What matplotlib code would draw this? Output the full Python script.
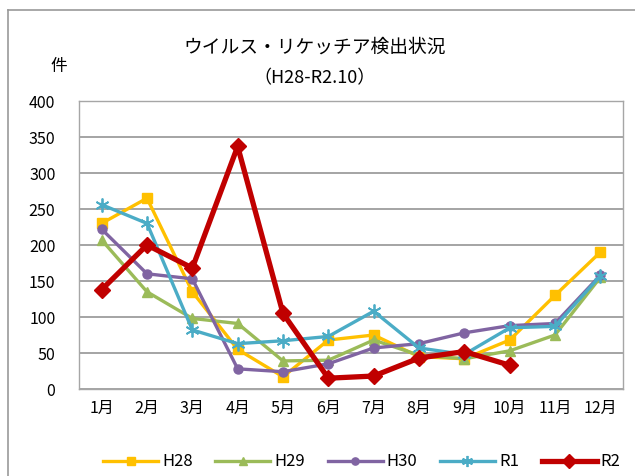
import matplotlib.pyplot as plt
from matplotlib.lines import Line2D

plt.rcParams['font.family'] = ['Noto Sans CJK JP', 'DejaVu Sans']

months = ['1月', '2月', '3月', '4月', '5月', '6月', '7月', '8月', '9月', '10月', '11月', '12月']
h28 = [230, 265, 135, 55, 17, 68, 75, 45, 42, 68, 130, 190]
h29 = [207, 135, 98, 91, 39, 40, 68, 47, 42, 53, 75, 155]
h30 = [222, 160, 153, 28, 24, 35, 57, 63, 78, 88, 91, 158]
r1 = [256, 230, 82, 63, 67, 73, 108, 57, 48, 85, 87, 157]
r2 = [138, 200, 168, 337, 105, 15, 18, 43, 52, 33]
yticks = [0, 50, 100, 150, 200, 250, 300, 350, 400]

fig = plt.figure(figsize=(6.35, 4.76), dpi=100)
ax = fig.add_axes([79 / 635, 1 - 389 / 476, 544 / 635, 288 / 476])

x = list(range(len(months)))
ax.plot(x, h28, color='#FFC000', lw=2.4, marker='s', ms=6.5, label='H28')
ax.plot(x, h29, color='#9BBB59', lw=2.4, marker='^', ms=6.5, label='H29')
ax.plot(x, h30, color='#8064A2', lw=2.4, marker='o', ms=6.5, label='H30')
ax.plot(x, r1, color='#4BACC6', lw=2.4, marker=(6, 2, 0), ms=10, mew=1.3, label='R1')
ax.plot(x[:len(r2)], r2, color='#C00000', lw=3.8, marker='D', ms=8.5, label='R2')

ax.set_xlim(-0.5, len(months) - 0.5)
ax.set_ylim(0, 400)
ax.set_yticks(yticks)
ax.set_xticks(x)
ax.set_xticklabels(months, fontsize=11.5)
ax.tick_params(axis='y', length=0, pad=17, labelsize=11.5)
ax.tick_params(axis='x', length=0, pad=8)
ax.grid(axis='y', color='#8c8c8c', lw=1.1)
ax.set_axisbelow(True)
for s in ax.spines.values():
    s.set_color('#a6a6a6')
    s.set_linewidth(1)

fig.text(315 / 635, 1 - 47 / 476, 'ウイルス・リケッチア検出状況', ha='center', va='center', fontsize=13.5)
fig.text(315 / 635, 1 - 78 / 476, '（H28-R2.10）', ha='center', va='center', fontsize=13)
fig.text(59 / 635, 1 - 66 / 476, '件', ha='center', va='center', fontsize=12)

# outer chart frame (cut off at right/bottom)
fig.add_artist(Line2D([8 / 635, 8 / 635], [0, 1 - 10 / 476], color='#999999', lw=1.2, transform=fig.transFigure))
fig.add_artist(Line2D([8 / 635, 1], [1 - 10 / 476, 1 - 10 / 476], color='#999999', lw=1.2, transform=fig.transFigure))

fig.legend(loc='center left', bbox_to_anchor=(103 / 635, 1 - 462 / 476), ncol=5, frameon=False,
           fontsize=12, handlelength=3.3, handletextpad=0.25, columnspacing=1.35,
           borderpad=0, borderaxespad=0, markerscale=0.8)

fig.savefig('out.png', dpi=100)
